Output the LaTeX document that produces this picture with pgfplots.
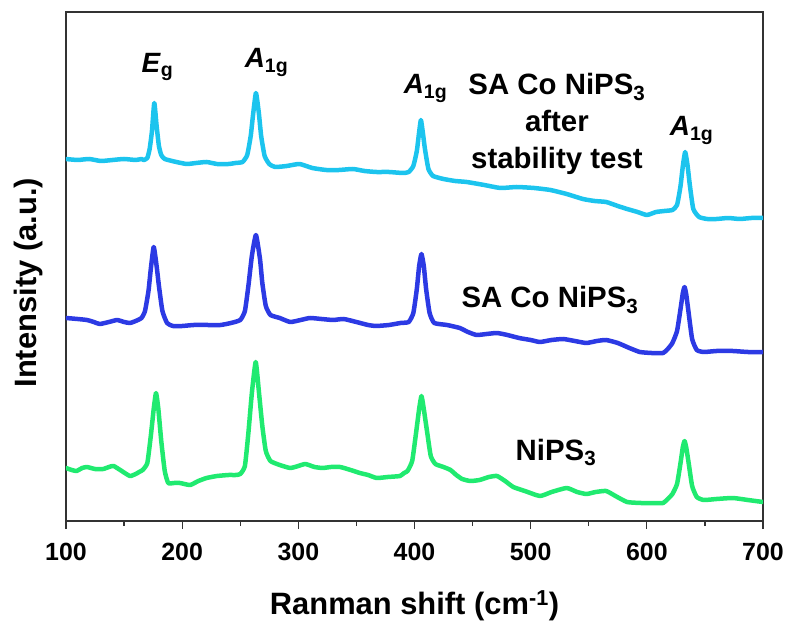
\documentclass[border=0pt]{standalone}
\usepackage{fontspec}
\setmainfont{Liberation Sans}
\usepackage{pgfplots}
\pgfplotsset{compat=1.18}
\definecolor{ccyan}{RGB}{28,196,238}
\definecolor{cblue}{RGB}{44,58,228}
\definecolor{cgreen}{RGB}{32,234,112}
\begin{document}
\begin{tikzpicture}
\begin{axis}[
  scale only axis, width=697bp, height=509bp,
  xmin=100, xmax=700, ymin=0, ymax=509,
  ytick=\empty,
  xtick={100,200,...,700},
  minor x tick num=1,
  xtick pos=bottom,
  tick align=outside,
  major tick length=8bp, minor tick length=5bp,
  axis line style={line width=1.2bp, black!80},
  every tick/.style={line width=1.2bp, black!80},
  /pgf/number format/assume math mode=true,
  xticklabel style={font=\bfseries\fontsize{25}{25}\selectfont, anchor=base, inner sep=0pt, yshift=-31bp},
  xlabel={Ranman shift (cm\textsuperscript{-1})},
  ylabel={Intensity (a.u.)},
  xlabel style={font=\bfseries\fontsize{31}{31}\selectfont, at={(axis description cs:0.5,-0.183)}, anchor=base, inner sep=0pt},
  ylabel style={font=\bfseries\fontsize{31}{31}\selectfont, at={(axis description cs:-0.043,0.468)}, anchor=base, inner sep=0pt, rotate=0},
  every axis plot/.append style={line width=4.5bp, line join=round, line cap=round, no markers, smooth, tension=0.3},
  clip=true,
]
\addplot[ccyan] coordinates {
(100,362)(110,361)(120,362)(130,360)(140,361)(150,362)(160,361)(165,362)
(167,361)(170,363)(172,372)(174,390)(176,418)(178,395)(180,375)(182,366)(185,362)
(195,359)(204,357)(212,358)(221,359)(230,357)(240,357)(246,358)
(252,359)(256,366)(259,385)(261,406)(263.5,428)(266,408)(268,385)(271,365)(275,357)(280,354)
(290,355)(301,357)(312,353)(324,351)(335,351)(347,352)(357,350)(367,349)(378,349)(390,348)
(395,349)(399,355)(402,370)(404,389)(405.5,401)(407,390)(409,372)(412,352)(416,345)
(425,342)(435,340)(445,339)(460,336)(474,333)(488,334)(503,333)(517,331)(531,327)(545,322)
(555,320)(565,319)(575,315)(583,312)(592,309)(600,306)(608,309)(615,310)
(622,311)(626,316)(629,335)(631,355)(633,369)(635,356)(637,336)(640,312)(645,304)
(652,302)(660,302)(670,303)(680,302)(690,303)(700,303)
};
\addplot[cblue] coordinates {
(100,203)(110,202)(118,201)(124,199)(129,197)(137,199)(144,201)(150,199)(155,198)(160,200)
(165,203)(168,210)(171,230)(173,252)(175.5,274)(178,255)(180,235)(183,210)(187,198)
(192,195)(200,195)(210,196)(222,196)(233,196)(242,198)
(250,201)(254,210)(257,235)(260,265)(263.5,286)(267,262)(269,238)(272,215)(276,206)
(284,203)(293,199)(302,201)(310,203)(320,202)(330,201)(339,202)(350,199)(360,196)(367,195)(378,196)(388,198)
(395,199)(399,208)(402,232)(404,255)(406,267)(408,255)(410,232)(413,208)(417,198)
(428,196)(439,193)(446,189)(453.5,186)(462,187)(471,188)(480,186)(490,183)(500,181)(508,179)
(518,181)(528,182)(538,180)(548,178)(557,180)(565,181)(575,178)(585,173)(594,169)(604,168)(614,168)(618,172)
(622,178)(626,190)(629,212)(631,228)(632.5,234)(634,226)(636,208)(639,182)(643,171)
(649,169)(660,170)(674,170)(687,169)(700,169)
};
\addplot[cgreen] coordinates {
(100,53)(105,51)(109,50)(114,53)(118,54)(125,52)(132,52)(137,54)(141,55)(148,50)(155,45)(160,47)(163,49)
(166,51)(170,58)(173,85)(175.5,112)(177.5,128)(179.5,112)(182,80)(185,50)(188,38)
(193,38)(198,38)(202,37)(207,36)(214,40)(221,43)(230,45)(240,46)(246,46)
(250,47)(254,55)(257,88)(260,128)(263.3,159)(266,130)(269,95)(272,70)(276,60)
(284,56)(293,53)(300,55)(306,57)(314,54)(321,53)(328,54)(336,54)(345,51)(353,48)(360,46)(367.5,43)(377,44)(387.5,45)(391,48)
(394,50)(398,60)(401,85)(404,112)(406,125)(408,112)(411,88)(414,65)(418,57)
(425,54)(431,51)(436,46)(441,42)(448,40)(456,41)(464,44)(471,45)(478,40)(485,34)(495,30)(508,25)
(518,29)(531,33)(540,29)(548,27)(556,29)(565,30)(573,25)(583,19)(595,18)(605,18)(614,18)(618,22)
(622,27)(626,37)(629,58)(631,74)(632.5,80)(634,73)(636,58)(639,35)(643,24)
(649,21)(660,22)(674,23)(687,21)(700,19)
};
\begin{scope}[every node/.style={font=\bfseries\fontsize{28}{28}\selectfont, anchor=base, inner sep=0pt}]
\node at (axis cs:178.8,448) {\textit{E}\textsubscript{g}};
\node at (axis cs:272.6,453) {\textit{A}\textsubscript{1g}};
\node at (axis cs:409.5,427) {\textit{A}\textsubscript{1g}};
\node at (axis cs:638.6,385) {\textit{A}\textsubscript{1g}};
\end{scope}
\begin{scope}[every node/.style={font=\bfseries\fontsize{29.5}{29.5}\selectfont, anchor=base, inner sep=0pt}]
\node at (axis cs:522.6,426) {SA Co NiPS\textsubscript{3}};
\node at (axis cs:522.6,389) {after};
\node at (axis cs:522.6,352) {stability test};
\node at (axis cs:516.6,213) {SA Co NiPS\textsubscript{3}};
\node at (axis cs:521.8,61) {NiPS\textsubscript{3}};
\end{scope}
\end{axis}
\pgfresetboundingbox
\path ([shift={(-66bp,-102bp)}]current axis.south west) rectangle ([shift={(25bp,12bp)}]current axis.north east);
\end{tikzpicture}
\end{document}
